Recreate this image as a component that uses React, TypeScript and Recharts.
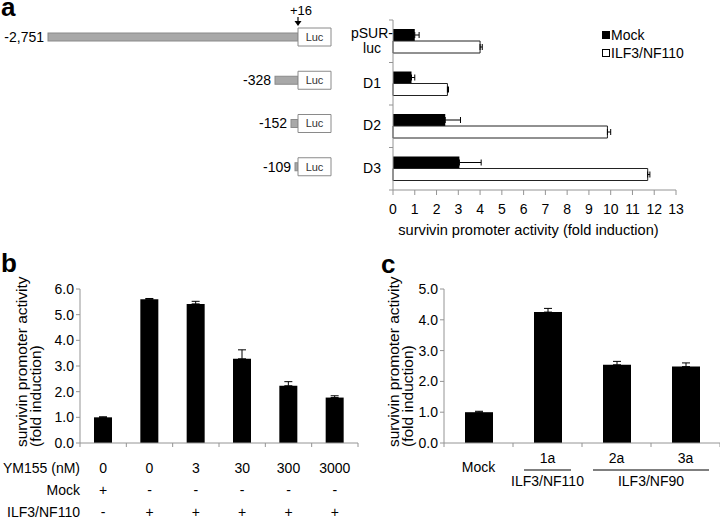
import React from "react";
import { Bar, BarChart, ErrorBar, LabelList, Legend, XAxis, YAxis } from "recharts";

const FONT = "'Liberation Sans', Arial, Helvetica, sans-serif";
const AXIS_GREY = "#949494";

// ---- panel a: promoter constructs ----
const constructs = ["pSUR-luc", "D1", "D2", "D3"];
const constructTickLines = [["pSUR-", "luc"], ["D1"], ["D2"], ["D3"]];
const promoterStarts = ["-2,751", "-328", "-152", "-109"];
const promoterDrawnLength = [100, 9.2, 2.8, 1.2]; // schematic length, arbitrary units
const lucDrawnLength = [13.2, 13.2, 13.2, 13.2];
const transcriptionStart = ["+16", "", "", ""];
const reporterName = "Luc";
const mockA = [1.0, 0.85, 2.4, 3.05];
const mockAErr = [0.2, 0.15, 0.7, 1.0];
const ilfA = [4.0, 2.5, 9.85, 11.7];
const ilfAErr = [0.1, 0.05, 0.15, 0.1];
const foldTicksA = [0, 1, 2, 3, 4, 5, 6, 7, 8, 9, 10, 11, 12, 13];
const seriesA = [
  { key: "mock", name: "Mock", fill: "#000" },
  { key: "ilf", name: "ILF3/NF110", fill: "#fff" },
];

// ---- panel b: YM155 dose ----
const ym155Dose = ["0", "0", "3", "30", "300", "3000"];
const mockSign = ["+", "-", "-", "-", "-", "-"];
const ilfSign = ["-", "+", "+", "+", "+", "+"];
const rowLabelsB = ["YM155 (nM)", "Mock", "ILF3/NF110"];
const activityB = [1.0, 5.6, 5.42, 3.28, 2.23, 1.77];
const activityBErr = [0.02, 0.03, 0.1, 0.35, 0.16, 0.07];
const ticksB = [0, 1, 2, 3, 4, 5, 6];

// ---- panel c: isoforms ----
const isoforms = ["Mock", "1a", "2a", "3a"];
const isoformGroup = ["", "ILF3/NF110", "ILF3/NF90", "ILF3/NF90"];
const activityC = [1.0, 4.25, 2.54, 2.48];
const activityCErr = [0.03, 0.12, 0.11, 0.12];
const ticksC = [0, 1, 2, 3, 4, 5];

const schematicRows = constructs.map((name, i) => ({
  name,
  pad: promoterDrawnLength[0] - promoterDrawnLength[i],
  promoter: promoterDrawnLength[i],
  luc: lucDrawnLength[i],
  start: promoterStarts[i],
  tss: transcriptionStart[i],
  reporter: reporterName,
}));

const rowsA = constructs.map((name, i) => ({
  name,
  mock: mockA[i],
  mockErr: [0, mockAErr[i]],
  ilf: ilfA[i],
  ilfErr: [0, ilfAErr[i]],
}));

const rowsB = ym155Dose.map((dose, i) => ({ key: `b${i}`, value: activityB[i], err: [0, activityBErr[i]] }));
const rowsC = isoforms.map((name, i) => ({ name, value: activityC[i], err: [0, activityCErr[i]] }));

// band sizes follow from the chart sizes below
const BAND_A = 170 / constructs.length;
const BAND_B = 278 / ym155Dose.length;
const BAND_C = 276 / isoforms.length;

const PromoterShape = (props: any) => {
  const { x, y, width, height } = props;
  const h = 8;
  return <rect x={x} y={y + (height - h) / 2} width={Math.max(width, 1)} height={h} fill="#a8a8a8" stroke="#8a8a8a" strokeWidth={1} />;
};

const TssMarker = (props: any) => {
  const vb = props.viewBox || props;
  if (!props.value) return null;
  const x = vb.x;
  const y = vb.y;
  return (
    <g>
      <text x={x + 3} y={y - 13} textAnchor="middle" fontSize={13} fill="#000">
        {props.value}
      </text>
      <line x1={x} x2={x} y1={y - 11} y2={y - 6} stroke="#000" strokeWidth={1.2} />
      <path d={`M${x - 3.5},${y - 7} L${x + 3.5},${y - 7} L${x},${y - 2} Z`} fill="#000" />
    </g>
  );
};

const ConstructTick = (props: any) => {
  const { x, y, index } = props;
  const lines = constructTickLines[index] || [];
  const half = BAND_A / 2;
  return (
    <g>
      {lines.map((t, i) => (
        <text key={i} x={x - 21} y={y + (i - (lines.length - 1) / 2) * 15 + 4} textAnchor="middle" fontSize={14} fill="#000">
          {t}
        </text>
      ))}
      <line x1={x - 4} x2={x} y1={y - half} y2={y - half} stroke={AXIS_GREY} />
      {index === constructs.length - 1 && <line x1={x - 4} x2={x} y1={y + half} y2={y + half} stroke={AXIS_GREY} />}
    </g>
  );
};

const DoseTick = (props: any) => {
  const { x, y, index } = props;
  const half = BAND_B / 2;
  const cells = [ym155Dose[index], mockSign[index], ilfSign[index]];
  const rowDy = [30, 52, 74];
  return (
    <g>
      {cells.map((t, i) => (
        <text key={i} x={x} y={y + rowDy[i]} textAnchor="middle" fontSize={14} fill="#000">
          {t}
        </text>
      ))}
      {index === 0 &&
        rowLabelsB.map((t, i) => (
          <text key={`r${i}`} x={x - half} y={y + rowDy[i]} textAnchor="end" fontSize={14} fill="#000">
            {t}
          </text>
        ))}
      <line x1={x + half} x2={x + half} y1={y} y2={y + 4} stroke={AXIS_GREY} />
      {index === 0 && <line x1={x - half} x2={x - half} y1={y} y2={y + 4} stroke={AXIS_GREY} />}
    </g>
  );
};

const IsoformTick = (props: any) => {
  const { x, y, index } = props;
  const half = BAND_C / 2;
  const group = isoformGroup[index];
  const prevSame = index > 0 && isoformGroup[index - 1] === group;
  const nextSame = index < isoforms.length - 1 && isoformGroup[index + 1] === group;
  let span = 1;
  while (index + span < isoforms.length && isoformGroup[index + span] === group) span++;
  const inset = 11;
  return (
    <g>
      {group === "" ? (
        <text x={x} y={y + 29} textAnchor="middle" fontSize={14} fill="#000">
          {isoforms[index]}
        </text>
      ) : (
        <g>
          <text x={x} y={y + 20} textAnchor="middle" fontSize={14} fill="#000">
            {isoforms[index]}
          </text>
          <line
            x1={x - half + (prevSame ? 0 : inset)}
            x2={x + half - (nextSame ? 0 : inset)}
            y1={y + 27}
            y2={y + 27}
            stroke="#000"
            strokeWidth={1.2}
          />
          {!prevSame && (
            <text x={x + ((span - 1) * BAND_C) / 2} y={y + 43} textAnchor="middle" fontSize={14} fill="#000">
              {group}
            </text>
          )}
        </g>
      )}
      <line x1={x + half} x2={x + half} y1={y} y2={y + 4} stroke={AXIS_GREY} />
      {index === 0 && <line x1={x - half} x2={x - half} y1={y} y2={y + 4} stroke={AXIS_GREY} />}
    </g>
  );
};

const RotatedTitle = (props: any) => {
  const { viewBox, offsetX } = props;
  const bottom = viewBox.y + viewBox.height + 4;
  const lines = ["survivin promoter activity", "(fold induction)"];
  return (
    <g>
      {lines.map((t, i) => {
        const cx = viewBox.x + offsetX + i * 14;
        return (
          <text
            key={i}
            x={cx}
            y={bottom}
            transform={`rotate(-90 ${cx} ${bottom})`}
            textAnchor="start"
            dominantBaseline="central"
            fontSize={15.5}
            fill="#000"
          >
            {t}
          </text>
        );
      })}
    </g>
  );
};

const LegendA = () => (
  <div style={{ fontFamily: FONT, fontSize: 14, lineHeight: "18px", color: "#000" }}>
    {seriesA.map((s) => (
      <div key={s.key} style={{ display: "flex", alignItems: "center", whiteSpace: "nowrap" }}>
        <span style={{ display: "inline-block", width: 6, height: 6, background: s.fill, border: "1px solid #000", marginRight: 1 }} />
        <span>{s.name}</span>
      </div>
    ))}
  </div>
);

const letterStyle: React.CSSProperties = {
  position: "absolute",
  fontFamily: FONT,
  fontWeight: 700,
  fontSize: 26,
  lineHeight: "14px",
  color: "#000",
};

export default function App() {
  return (
    <div style={{ position: "absolute", left: 0, top: 0, width: 720, height: 519, background: "#fff", fontFamily: FONT, overflow: "hidden" }}>
      <div style={{ ...letterStyle, left: 1, top: 0 }}>a</div>
      <div style={{ ...letterStyle, left: 1, top: 256 }}>b</div>
      <div style={{ ...letterStyle, left: 381, top: 257 }}>c</div>

      {/* panel a schematic */}
      <div style={{ position: "absolute", left: 0, top: 0 }}>
        <BarChart width={345} height={205} data={schematicRows} layout="vertical" margin={{ top: 15, right: 14, bottom: 17, left: 48 }} barSize={18}>
          <XAxis type="number" hide domain={[0, promoterDrawnLength[0] + lucDrawnLength[0]]} />
          <YAxis type="category" dataKey="name" hide />
          <Bar dataKey="pad" stackId="s" fill="#fff" fillOpacity={0} isAnimationActive={false} />
          <Bar dataKey="promoter" stackId="s" shape={PromoterShape} isAnimationActive={false}>
            <LabelList dataKey="start" position="left" offset={4} fill="#000" fontSize={14} />
          </Bar>
          <Bar dataKey="luc" stackId="s" fill="#fff" stroke="#8a8a8a" strokeWidth={1} isAnimationActive={false}>
            <LabelList dataKey="reporter" position="inside" fill="#333" fontSize={11} />
            <LabelList dataKey="tss" content={TssMarker} />
          </Bar>
        </BarChart>
      </div>

      {/* panel a bars */}
      <div style={{ position: "absolute", left: 340, top: 0 }}>
        <BarChart width={380} height={245} data={rowsA} layout="vertical" margin={{ top: 20, right: 44, bottom: 0, left: 0 }} barSize={12} barGap={0}>
          <XAxis
            type="number"
            domain={[0, 13]}
            ticks={foldTicksA}
            interval={0}
            height={55}
            tickSize={5}
            tickMargin={9}
            tick={{ fill: "#000", fontSize: 14 }}
            axisLine={{ stroke: AXIS_GREY }}
            tickLine={{ stroke: AXIS_GREY }}
            label={{ value: "survivin promoter activity (fold induction)", position: "insideBottom", offset: 10, dx: -6, fill: "#000", fontSize: 14.6 }}
          />
          <YAxis
            type="category"
            dataKey="name"
            width={53}
            interval={0}
            tickSize={0}
            tickMargin={0}
            tickLine={false}
            axisLine={{ stroke: AXIS_GREY }}
            tick={ConstructTick}
          />
          <Legend
            layout="vertical"
            align="center"
            verticalAlign="middle"
            wrapperStyle={{ top: 26, left: 262, width: 110 }}
            content={LegendA}
          />
          <Bar dataKey="mock" name={seriesA[0].name} fill={seriesA[0].fill} isAnimationActive={false}>
            <ErrorBar dataKey="mockErr" direction="x" width={3} stroke="#000" strokeWidth={1} />
          </Bar>
          <Bar dataKey="ilf" name={seriesA[1].name} fill={seriesA[1].fill} stroke="#222" strokeWidth={1} isAnimationActive={false}>
            <ErrorBar dataKey="ilfErr" direction="x" width={3} stroke="#000" strokeWidth={1} />
          </Bar>
        </BarChart>
      </div>

      {/* panel b */}
      <div style={{ position: "absolute", left: 0, top: 250 }}>
        <BarChart width={370} height={269} data={rowsB} margin={{ top: 39, right: 12, bottom: 0, left: 0 }} barSize={18}>
          <XAxis dataKey="key" interval={0} height={76} tickSize={0} tickMargin={0} tickLine={false} axisLine={{ stroke: AXIS_GREY }} tick={DoseTick} />
          <YAxis
            domain={[0, 6]}
            ticks={ticksB}
            interval={0}
            width={80}
            tickSize={4}
            tickMargin={2}
            tickFormatter={(v: number) => v.toFixed(1)}
            tick={{ fill: "#000", fontSize: 14 }}
            axisLine={{ stroke: AXIS_GREY }}
            tickLine={{ stroke: AXIS_GREY }}
            label={<RotatedTitle offsetX={21.5} />}
          />
          <Bar dataKey="value" fill="#000" isAnimationActive={false}>
            <ErrorBar dataKey="err" direction="y" width={4} stroke="#000" strokeWidth={1} />
          </Bar>
        </BarChart>
      </div>

      {/* panel c */}
      <div style={{ position: "absolute", left: 380, top: 250 }}>
        <BarChart width={340} height={269} data={rowsC} margin={{ top: 39, right: 0, bottom: 0, left: 0 }} barSize={28}>
          <XAxis dataKey="name" interval={0} height={76} tickSize={0} tickMargin={0} tickLine={false} axisLine={{ stroke: AXIS_GREY }} tick={IsoformTick} />
          <YAxis
            domain={[0, 5]}
            ticks={ticksC}
            interval={0}
            width={64}
            tickSize={4}
            tickMargin={2}
            tickFormatter={(v: number) => v.toFixed(1)}
            tick={{ fill: "#000", fontSize: 14 }}
            axisLine={{ stroke: AXIS_GREY }}
            tickLine={{ stroke: AXIS_GREY }}
            label={<RotatedTitle offsetX={13.5} />}
          />
          <Bar dataKey="value" fill="#000" isAnimationActive={false}>
            <ErrorBar dataKey="err" direction="y" width={4} stroke="#000" strokeWidth={1} />
          </Bar>
        </BarChart>
      </div>
    </div>
  );
}
